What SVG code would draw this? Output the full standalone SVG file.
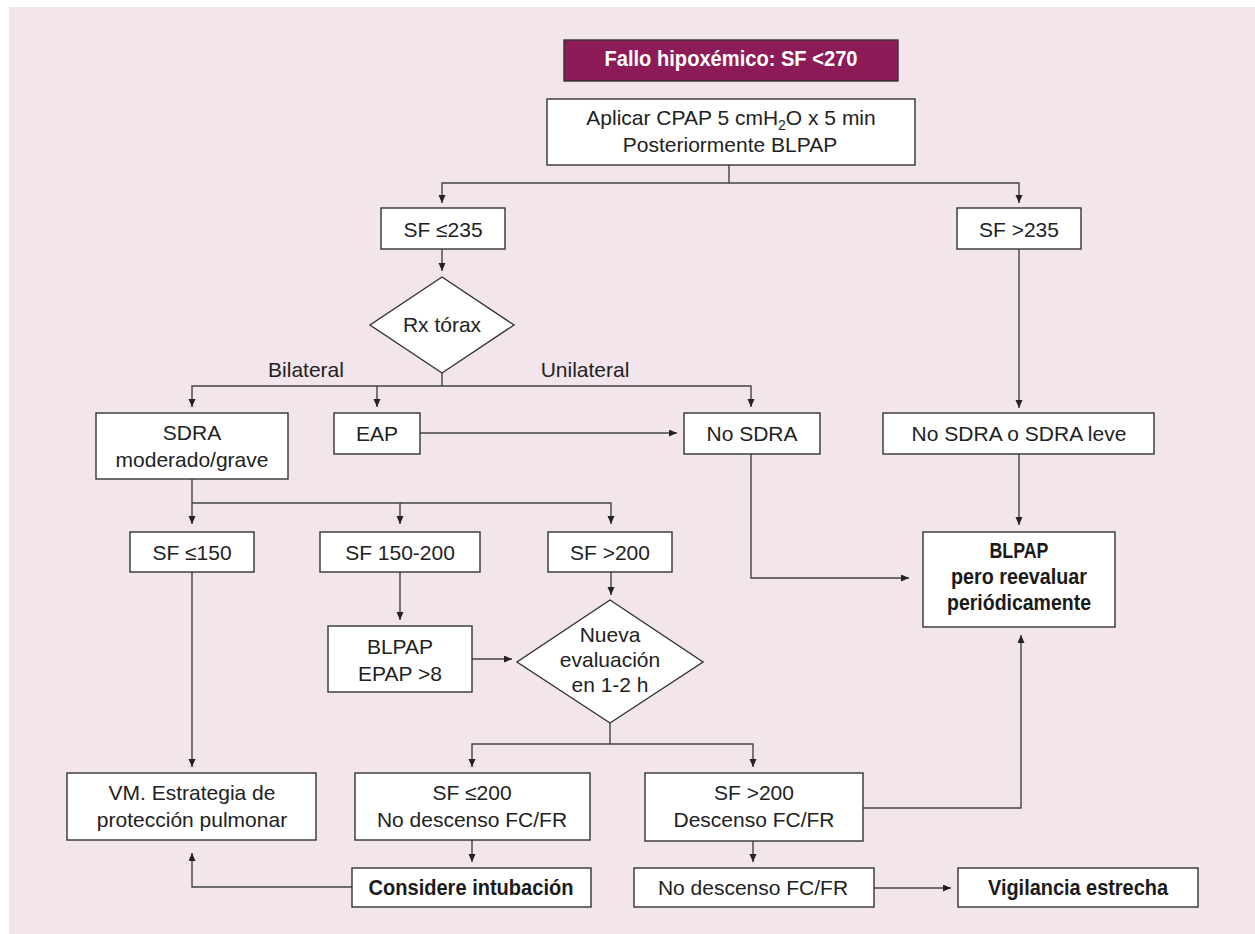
<svg xmlns="http://www.w3.org/2000/svg" width="1255" height="934" viewBox="0 0 1255 934">
<style>
.bg{fill:#f3e5ec}
.box{fill:#ffffff;stroke:#333;stroke-width:1.4}
.t{font-family:"Liberation Sans",Arial,sans-serif;font-size:21px;fill:#222;text-anchor:middle}
.b{font-family:"Liberation Sans",Arial,sans-serif;font-size:22px;font-weight:bold;fill:#1a1a1a;text-anchor:middle}
.w{fill:#ffffff}
.c{fill:none;stroke:#444;stroke-width:1.4}
</style>
<defs>
<marker id="ah" markerUnits="userSpaceOnUse" markerWidth="8" markerHeight="8" refX="8" refY="3.5" orient="auto">
<path d="M0,0 L8,3.5 L0,7 z" fill="#222"/>
</marker>
</defs>
<rect class="bg" x="9" y="7" width="1246" height="927"/>

<g id="connectors">
<path class="c" d="M729,165 V183 H442 V203" marker-end="url(#ah)"/>
<path class="c" d="M729,183 H1019 V203" marker-end="url(#ah)"/>
<path class="c" d="M442,249 V271" marker-end="url(#ah)"/>
<path class="c" d="M442,373 V386 H192 V407" marker-end="url(#ah)"/>
<path class="c" d="M377,386 V407" marker-end="url(#ah)"/>
<path class="c" d="M442,386 H751 V407" marker-end="url(#ah)"/>
<path class="c" d="M1019,249 V408" marker-end="url(#ah)"/>
<path class="c" d="M420,433 H677" marker-end="url(#ah)"/>
<path class="c" d="M1019,454 V525" marker-end="url(#ah)"/>
<path class="c" d="M751,454 V578 H909" marker-end="url(#ah)"/>
<path class="c" d="M192,479 V524" marker-end="url(#ah)"/>
<path class="c" d="M192,503 H400 V524" marker-end="url(#ah)"/>
<path class="c" d="M400,503 H611 V524" marker-end="url(#ah)"/>
<path class="c" d="M192,572 V767" marker-end="url(#ah)"/>
<path class="c" d="M400,572 V620" marker-end="url(#ah)"/>
<path class="c" d="M611,572 V595" marker-end="url(#ah)"/>
<path class="c" d="M472,659 H512" marker-end="url(#ah)"/>
<path class="c" d="M610,723 V744 H472 V767" marker-end="url(#ah)"/>
<path class="c" d="M610,744 H753 V767" marker-end="url(#ah)"/>
<path class="c" d="M863,808 H1021 V635" marker-end="url(#ah)"/>
<path class="c" d="M472,840 V862" marker-end="url(#ah)"/>
<path class="c" d="M753,841 V862" marker-end="url(#ah)"/>
<path class="c" d="M352,887 H192 V853" marker-end="url(#ah)"/>
<path class="c" d="M874,888 H951" marker-end="url(#ah)"/>
</g>

<g id="title">
<rect x="564" y="40" width="334" height="41" fill="#8d1b58" stroke="#333" stroke-width="1.4"/>
<text class="b w" x="731" y="66" textLength="253" lengthAdjust="spacingAndGlyphs" style="fill:#fff">Fallo hipoxémico: SF &lt;270</text>
</g>

<g id="aplicar">
<rect class="box" x="547" y="99" width="368" height="66"/>
<text class="t" x="731" y="125">Aplicar CPAP 5 cmH<tspan font-size="14" dy="5">2</tspan><tspan dy="-5">O x 5 min</tspan></text>
<text class="t" x="730" y="152">Posteriormente BLPAP</text>
</g>

<g id="sf235a">
<rect class="box" x="381" y="208" width="124" height="41"/>
<text class="t" x="443" y="237">SF ≤235</text>
</g>

<g id="sf235b">
<rect class="box" x="957" y="208" width="124" height="41"/>
<text class="t" x="1019" y="237">SF &gt;235</text>
</g>

<g id="rx">
<polygon class="box" points="442,277 514,325 442,373 370,325"/>
<text class="t" x="442" y="332">Rx tórax</text>
</g>

<g id="labels">
<text class="t" x="306" y="377">Bilateral</text>
<text class="t" x="585" y="377">Unilateral</text>
</g>

<g id="sdra">
<rect class="box" x="96" y="413" width="192" height="66"/>
<text class="t" x="192" y="440">SDRA</text>
<text class="t" x="192" y="467">moderado/grave</text>
</g>

<g id="eap">
<rect class="box" x="334" y="413" width="86" height="41"/>
<text class="t" x="377" y="441">EAP</text>
</g>

<g id="nosdra">
<rect class="box" x="684" y="413" width="136" height="41"/>
<text class="t" x="752" y="441">No SDRA</text>
</g>

<g id="nosdraleve">
<rect class="box" x="883" y="413" width="271" height="41"/>
<text class="t" x="1019" y="441">No SDRA o SDRA leve</text>
</g>

<g id="blpap-reeval">
<rect class="box" x="923" y="532" width="192" height="95"/>
<text class="b" x="1019" y="558" textLength="59" lengthAdjust="spacingAndGlyphs">BLPAP</text>
<text class="b" x="1019" y="584" textLength="136" lengthAdjust="spacingAndGlyphs">pero reevaluar</text>
<text class="b" x="1019" y="610" textLength="144" lengthAdjust="spacingAndGlyphs">periódicamente</text>
</g>

<g id="sf150">
<rect class="box" x="130" y="532" width="124" height="40"/>
<text class="t" x="192" y="560">SF ≤150</text>
</g>

<g id="sf150200">
<rect class="box" x="320" y="532" width="160" height="40"/>
<text class="t" x="400" y="560">SF 150-200</text>
</g>

<g id="sf200">
<rect class="box" x="548" y="532" width="124" height="40"/>
<text class="t" x="610" y="560">SF &gt;200</text>
</g>

<g id="blpap-epap">
<rect class="box" x="328" y="626" width="144" height="66"/>
<text class="t" x="400" y="654">BLPAP</text>
<text class="t" x="400" y="681">EPAP &gt;8</text>
</g>

<g id="nueva">
<polygon class="box" points="610,600 703,662 610,723 517,662"/>
<text class="t" x="610" y="642">Nueva</text>
<text class="t" x="610" y="667">evaluación</text>
<text class="t" x="610" y="692">en 1-2 h</text>
</g>

<g id="vm">
<rect class="box" x="67" y="773" width="249" height="67"/>
<text class="t" x="192" y="800">VM. Estrategia de</text>
<text class="t" x="192" y="827">protección pulmonar</text>
</g>

<g id="sf200no">
<rect class="box" x="355" y="773" width="235" height="67"/>
<text class="t" x="472" y="800">SF ≤200</text>
<text class="t" x="472" y="827">No descenso FC/FR</text>
</g>

<g id="sf200des">
<rect class="box" x="645" y="773" width="218" height="68"/>
<text class="t" x="754" y="800">SF &gt;200</text>
<text class="t" x="754" y="827">Descenso FC/FR</text>
</g>

<g id="considere">
<rect class="box" x="352" y="868" width="239" height="39"/>
<text class="b" x="471" y="895" textLength="205" lengthAdjust="spacingAndGlyphs">Considere intubación</text>
</g>

<g id="nodescenso">
<rect class="box" x="634" y="868" width="240" height="39"/>
<text class="t" x="753" y="895">No descenso FC/FR</text>
</g>

<g id="vigilancia">
<rect class="box" x="958" y="868" width="240" height="39"/>
<text class="b" x="1078" y="895" textLength="180" lengthAdjust="spacingAndGlyphs">Vigilancia estrecha</text>
</g>
</svg>
